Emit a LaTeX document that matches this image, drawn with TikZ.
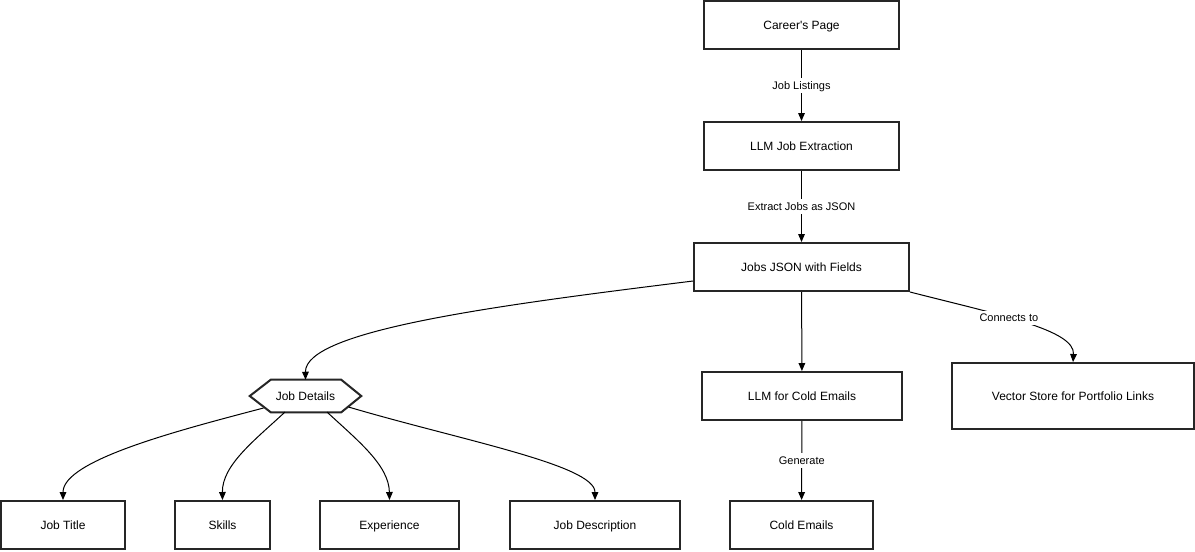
\documentclass[tikz,border=0pt]{standalone}
\usepackage{fontspec}
\setmainfont{Liberation Sans}
\usetikzlibrary{arrows.meta,calc}
\begin{document}
\begin{tikzpicture}[x=0.75pt,y=-0.75pt,
  box/.style={draw=black!85, line width=1.5pt, fill=white, font=\fontsize{9}{11}\selectfont, inner sep=0pt, minimum height=36pt, text height=7.4pt, text depth=1pt},
  conn/.style={draw=black, line width=0.75pt, -{Triangle[length=6pt,width=5pt]}},
  lbl/.style={fill=white, font=\fontsize{8.25}{10}\selectfont, inner sep=1.5pt, text height=6.9pt, text depth=1pt}]
\useasboundingbox (0,0) rectangle (1195,551);
% nodes
\node[box, minimum width=146.25pt] (career) at (801.5,25) {Career\textquotesingle s Page};
\node[box, minimum width=146.25pt] (lje) at (801.5,146) {LLM Job Extraction};
\node[font=\fontsize{9}{11}\selectfont, inner sep=0pt, minimum width=83.25pt, minimum height=24pt, text height=7.4pt, text depth=1pt] (jd) at (305.5,396) {Job Details};
\draw[draw=black!85, line width=1.5pt, line join=miter]
  (jd.west) -- ($(jd.north west)+(21,0)$) -- ($(jd.north east)+(-20,0)$) -- (jd.east)
  -- ($(jd.south east)+(-20,0)$) -- ($(jd.south west)+(21,0)$) -- cycle;
\node[box, minimum width=161.25pt] (json) at (801.5,267) {Jobs JSON with Fields};
\node[box, minimum width=150pt] (llmce) at (802,396) {LLM for Cold Emails};
\node[box, minimum width=181.5pt, minimum height=49.5pt] (vs) at (1073,396) {Vector Store for Portfolio Links};
\node[box, minimum width=93pt] (jt) at (63,525) {Job Title};
\node[box, minimum width=71.25pt] (sk) at (222.5,525) {Skills};
\node[box, minimum width=104.25pt] (ex) at (389.5,525) {Experience};
\node[box, minimum width=127.5pt] (jdesc) at (595,525) {Job Description};
\node[box, minimum width=107.25pt] (ce) at (801.5,525) {Cold Emails};
% connectors
\draw[conn] (career) -- node[lbl] {Job Listings} (lje);
\draw[conn] (lje) -- node[lbl] {Extract Jobs as JSON} (json);
\draw[conn] ($(json.south west)+(0,-11)$) .. controls (500,305) and (305,330) .. (jd.north);
\draw[conn] (json) -- (llmce);
\draw[conn] (json.south east) .. controls (1000,315) and (1075,330) .. node[lbl, pos=0.41] {Connects to} (vs.north);
\draw[conn] (llmce) -- node[lbl] {Generate} (ce);
\draw[conn] ($(jd)+(-42,12)$) .. controls (180,430) and (63,460) .. (jt.north);
\draw[conn] ($(jd)+(-20.5,16)$) .. controls (255,440) and (222,465) .. (sk.north);
\draw[conn] ($(jd)+(21.5,16)$) .. controls (357,440) and (389,465) .. (ex.north);
\draw[conn] ($(jd)+(43,11)$) .. controls (460,440) and (595,465) .. (jdesc.north);
\end{tikzpicture}
\end{document}
